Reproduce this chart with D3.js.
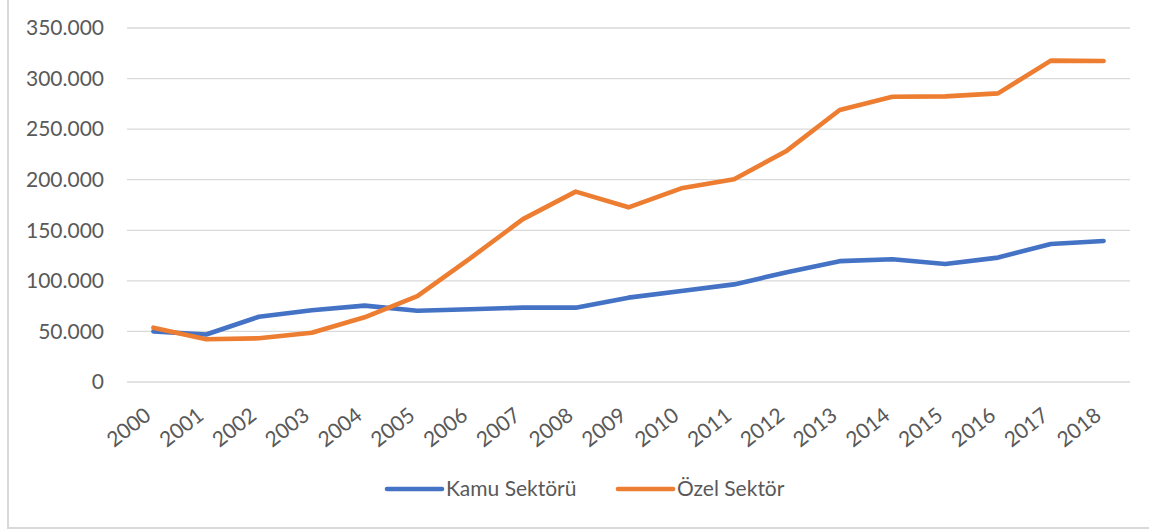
<!DOCTYPE html>
<html lang="tr">
  <head>
    <meta charset="UTF-8" />
    <script src="https://cdn.jsdelivr.net/npm/d3@7"></script>
    <style>
      * {
        margin: 0;
        padding: 0;
      }
      body {
        background: #fff;
      }
      #container svg {
        display: block;
      }
    </style>
    <title>Kamu ve Özel Sektör</title>
  </head>
  <body>
    <div id="container"></div>
  </body>
  <script>
    const years = [
      '2000', '2001', '2002', '2003', '2004', '2005', '2006', '2007', '2008', '2009',
      '2010', '2011', '2012', '2013', '2014', '2015', '2016', '2017', '2018',
    ];
    const kamu = [
      50000, 47000, 64500, 71000, 75500, 70500, 72000, 73500, 73500, 83400,
      90000, 96500, 108500, 119500, 121300, 116700, 123000, 136500, 139400,
    ];
    const ozel = [
      53700, 42200, 43200, 48700, 64000, 85000, 122300, 161000, 188200, 172700,
      191500, 200400, 228700, 268900, 282100, 282400, 285400, 317700, 317400,
    ];
    const yTicks = [0, 50000, 100000, 150000, 200000, 250000, 300000, 350000];
    const seriesNames = ['Kamu Sektörü', 'Özel Sektör'];

    const colors = ['#4472C4', '#ED7D31'];
    const width = 1149;
    const height = 531;
    const plotLeft = 127;
    const plotRight = 1130;
    const plotTop = 28;
    const plotBottom = 382;
    const font = 'Lato, "Open Sans", sans-serif';
    const fontSize = 21;
    const textColor = '#595959';

    const svg = d3
      .select('#container')
      .append('svg')
      .attr('width', width)
      .attr('height', height);

    // chart frame
    svg
      .append('rect')
      .attr('x', 8)
      .attr('y', -10)
      .attr('width', width + 20)
      .attr('height', 538)
      .attr('fill', '#fff')
      .attr('stroke', '#d9d9d9')
      .attr('stroke-width', 2);

    const x = d3
      .scaleBand()
      .domain(years)
      .range([plotLeft, plotRight]);
    const y = d3
      .scaleLinear()
      .domain([0, 350000])
      .range([plotBottom, plotTop]);

    const fmt = (d) => (d === 0 ? '0' : d3.format(',')(d).replace(/,/g, '.'));

    // grid lines
    svg
      .append('g')
      .selectAll('line')
      .data(yTicks)
      .join('line')
      .attr('x1', plotLeft)
      .attr('x2', plotRight)
      .attr('y1', (d) => y(d))
      .attr('y2', (d) => y(d))
      .attr('stroke', '#d9d9d9')
      .attr('stroke-width', 1.3);

    // y axis
    const yAxis = svg
      .append('g')
      .attr('transform', `translate(${plotLeft - 23},0)`)
      .call(d3.axisLeft(y).tickValues(yTicks).tickFormat(fmt).tickSize(0).tickPadding(0));
    yAxis.select('.domain').remove();
    yAxis
      .selectAll('text')
      .attr('font-family', font)
      .attr('font-size', fontSize)
      .attr('fill', textColor);

    // x axis
    const xAxis = svg
      .append('g')
      .attr('transform', `translate(0,${plotBottom})`)
      .call(d3.axisBottom(x).tickSize(0).tickPadding(0));
    xAxis.select('.domain').remove();
    xAxis
      .selectAll('text')
      .attr('font-family', font)
      .attr('font-size', fontSize)
      .attr('fill', textColor)
      .attr('text-anchor', 'end')
      .attr('dy', 0)
      .attr('y', 0)
      .attr('transform', 'translate(-1,36) rotate(-38)');

    // lines
    const line = d3
      .line()
      .x((d, i) => x(years[i]) + x.bandwidth() / 2)
      .y((d) => y(d));

    svg
      .append('g')
      .selectAll('path')
      .data([kamu, ozel])
      .join('path')
      .attr('d', (d) => line(d))
      .attr('fill', 'none')
      .attr('stroke', (d, i) => colors[i])
      .attr('stroke-width', 4.6)
      .attr('stroke-linejoin', 'round')
      .attr('stroke-linecap', 'round');

    // legend
    const legendX = [387, 618];
    const legend = svg
      .append('g')
      .selectAll('g')
      .data(seriesNames)
      .join('g')
      .attr('transform', (d, i) => `translate(${legendX[i]},489)`);
    legend
      .append('line')
      .attr('x1', 0)
      .attr('x2', 55)
      .attr('stroke', (d, i) => colors[i])
      .attr('stroke-width', 4.6)
      .attr('stroke-linecap', 'round');
    legend
      .append('text')
      .attr('x', 59)
      .attr('y', 7)
      .attr('font-family', font)
      .attr('font-size', fontSize)
      .attr('fill', textColor)
      .text((d) => d);
  </script>
</html>
